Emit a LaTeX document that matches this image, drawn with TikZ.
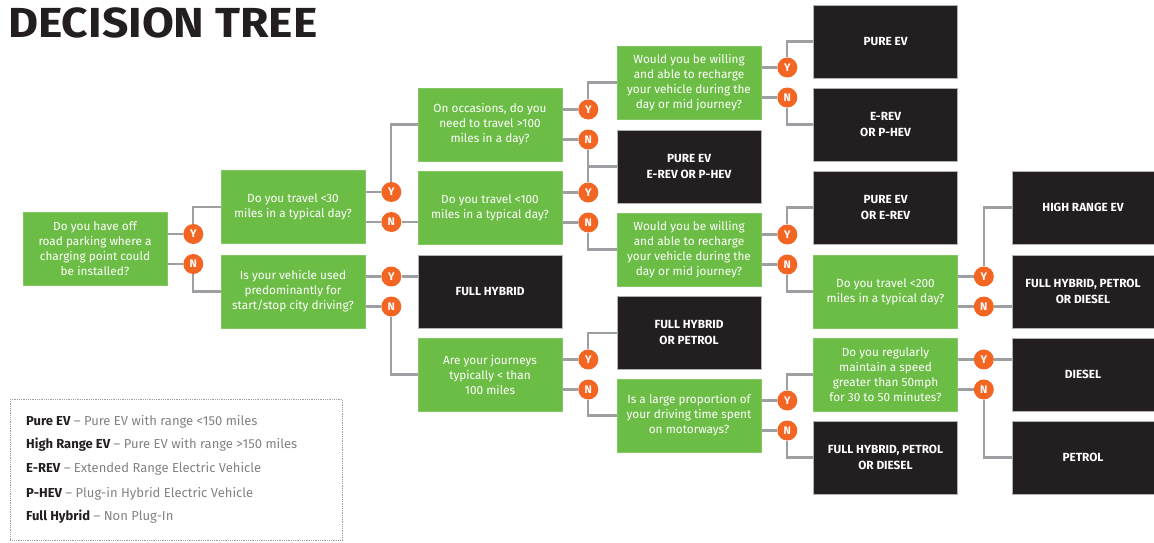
\documentclass[tikz,border=0pt]{standalone}
\usepackage{fontspec}
\setmainfont{Fira Sans}
\usetikzlibrary{calc}
\definecolor{qgreen}{HTML}{6CBD45}
\definecolor{rdark}{HTML}{231F20}
\definecolor{yorange}{HTML}{F26522}
\definecolor{lgray}{HTML}{9D9FA2}
\definecolor{dgray}{HTML}{808285}
\pgfdeclarelayer{bg}
\pgfsetlayers{bg,main}
\newcommand\ynpair[1]{%
  \node[yn] (#1y) at ($(#1.east)+(26,-15)$) {Y};
  \node[yn] (#1n) at ($(#1.east)+(26,15)$) {N};
  \begin{pgfonlayer}{bg}
    \draw[conn] (#1.east|-#1y) -- (#1y);
    \draw[conn] (#1.east|-#1n) -- (#1n);
  \end{pgfonlayer}}
\begin{document}
\begin{tikzpicture}[x=1pt,y=-1pt,
  q/.style={fill=qgreen, draw=qgreen!85!white, line width=0.6pt, text=white, minimum width=144pt, minimum height=73pt, align=center, font=\fontsize{11.8}{15}\selectfont, inner sep=0pt},
  r/.style={fill=rdark, draw=gray!60, line width=0.6pt, text=white, minimum width=144pt, minimum height=73pt, align=center, font=\bfseries\fontsize{11.8}{16}\selectfont, inner sep=0pt},
  rr/.style={r, minimum width=142pt},
  yn/.style={circle, fill=yorange, text=white, minimum size=20pt, inner sep=0pt, font=\bfseries\fontsize{11}{11}\selectfont},
  conn/.style={draw=lgray, line width=2.2pt},
  leg/.style={anchor=west, inner sep=0pt, text=dgray, font=\fontsize{13}{15}\selectfont}
]
\useasboundingbox (0,0) rectangle (1154,542);

\node[anchor=base west, font=\bfseries\fontsize{42}{42}\selectfont, text=rdark, inner sep=0pt, xscale=1.1] (title) at (8,37) {DECISION TREE};

% questions
\node[q] (q1) at (95,249) {Do you have off\\road parking where a\\charging point could\\be installed?};
\node[q] (q2) at (293,207) {Do you travel <30\\miles in a typical day?};
\node[q] (q3) at (293,291.5) {Is your vehicle used\\predominantly for\\start/stop city driving?};
\node[q] (q4) at (490,124.5) {On occasions, do you\\need to travel >100\\miles in a day?};
\node[q] (q5) at (490,207.5) {Do you travel <100\\miles in a typical day?};
\node[q] (q9) at (490,374.5) {Are your journeys\\typically < than\\100 miles};
\node[q] (q6) at (689,82.5) {Would you be willing\\and able to recharge\\your vehicle during the\\day or mid journey?};
\node[q] (q7) at (689,249.5) {Would you be willing\\and able to recharge\\your vehicle during the\\day or mid journey?};
\node[q] (q10) at (689,415.5) {Is a large proportion of\\your driving time spent\\on motorways?};
\node[q] (q8) at (885.5,291.5) {Do you travel <200\\miles in a typical day?};
\node[q] (q11) at (885.5,374.5) {Do you regularly\\maintain a speed\\greater than 50mph\\for 30 to 50 minutes?};

% results
\node[r] (fh) at (490,291.5) {FULL HYBRID};
\node[r] (pep) at (689,166.5) {PURE EV\\E-REV OR P-HEV};
\node[r] (fhp) at (689,333) {FULL HYBRID\\OR PETROL};
\node[r] (pev) at (885.5,41.5) {PURE EV};
\node[r] (erp) at (885.5,124.5) {E-REV\\OR P-HEV};
\node[r] (pe) at (885.5,207.5) {PURE EV\\OR E-REV};
\node[r] (fhpd1) at (885.5,457.5) {FULL HYBRID, PETROL\\OR DIESEL};
\node[rr] (hrev) at (1083,207.5) {HIGH RANGE EV};
\node[rr] (fhpd2) at (1083,291.5) {FULL HYBRID, PETROL\\OR DIESEL};
\node[rr] (dsl) at (1083,374.5) {DIESEL};
\node[rr] (ptl) at (1083,457.5) {PETROL};

% answer circles
\ynpair{q1}\ynpair{q2}\ynpair{q3}\ynpair{q4}\ynpair{q5}\ynpair{q6}
\ynpair{q7}\ynpair{q8}\ynpair{q9}\ynpair{q10}\ynpair{q11}

\begin{pgfonlayer}{bg}
\draw[conn] (q1y) |- (q2.west);
\draw[conn] (q1n) |- (q3.west);
\draw[conn] (q2y) |- (q4.west);
\draw[conn] (q2n) -- (q5.west|-q2n);
\draw[conn] (q3y) -- (fh.west|-q3y);
\draw[conn] (q3n) |- (q9.west);
\draw[conn] (q4y) |- (q6.west);
\draw[conn] (q4n) |- (pep.west);
\draw[conn] (q5y) |- (pep.west);
\draw[conn] (q5n) |- (q7.west);
\draw[conn] (q6y) |- (pev.west);
\draw[conn] (q6n) |- (erp.west);
\draw[conn] (q7y) |- (pe.west);
\draw[conn] (q7n) |- (q8.west);
\draw[conn] (q8y) |- (hrev.west);
\draw[conn] (q8n) -- (fhpd2.west|-q8n);
\draw[conn] (q9y) |- (fhp.west);
\draw[conn] (q9n) |- (q10.west);
\draw[conn] (q10y) |- (q11.west);
\draw[conn] (q10n) |- (fhpd1.west);
\draw[conn] (q11y) -- (dsl.west|-q11y);
\draw[conn] (q11n) |- (ptl.west);
\end{pgfonlayer}

% legend
\node[draw=lgray, densely dotted, line width=0.8pt, minimum width=332pt, minimum height=141pt, anchor=north west, inner sep=0pt] (legend) at (10,399) {};
\node[leg] (l1) at (26,422) {\textbf{\color{rdark}Pure EV} -- Pure EV with range <150 miles};
\node[leg] (l2) at (26,445) {\textbf{\color{rdark}High Range EV} -- Pure EV with range >150 miles};
\node[leg] (l3) at (26,469) {\textbf{\color{rdark}E-REV} -- Extended Range Electric Vehicle};
\node[leg] (l4) at (26,494) {\textbf{\color{rdark}P-HEV} -- Plug-in Hybrid Electric Vehicle};
\node[leg] (l5) at (26,517) {\textbf{\color{rdark}Full Hybrid} -- Non Plug-In};
\end{tikzpicture}
\end{document}
